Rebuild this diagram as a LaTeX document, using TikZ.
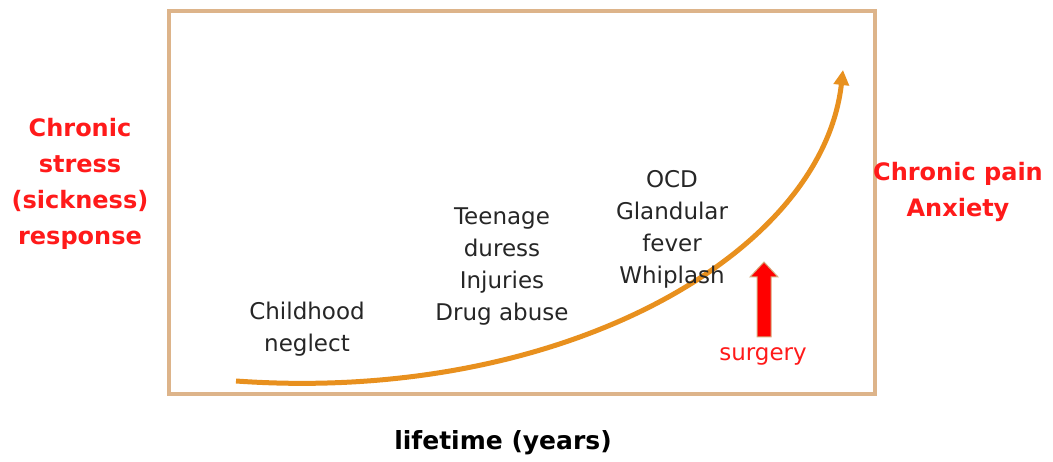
\documentclass[tikz,border=0pt]{standalone}
\usepackage{fontspec}
\setmainfont{DejaVu Sans}
\usetikzlibrary{arrows.meta}
\definecolor{boxtan}{HTML}{DDB48A}
\definecolor{curveorange}{HTML}{E8901E}
\definecolor{arrowred}{HTML}{FF0000}
\definecolor{redtext}{HTML}{FF1A1A}
\tikzset{
  lbl/.style={align=center, font=\fontsize{23}{32}\selectfont, text=black!85, inner sep=0pt},
  redlbl/.style={align=center, font=\bfseries\fontsize{24}{36}\selectfont, text=redtext, inner sep=0pt},
}
\begin{document}
\begin{tikzpicture}[x=1pt,y=-1pt]
\useasboundingbox (0,0) rectangle (1053,462);
\draw[boxtan, line width=3.5pt] (169,11) rectangle (875,394);
\coordinate (cstart) at (236,381);
\coordinate (cend) at (843,70);
\draw[curveorange, line width=5pt, -{Triangle[width=15pt,length=15pt]}]
  (cstart) .. controls (560,404) and (822,255) .. (cend);
\node[redlbl] (left) at (80,184) {Chronic\\stress\\(sickness)\\response};
\node[redlbl] (right) at (958,192) {Chronic pain\\Anxiety};
\node[font=\bfseries\fontsize{25}{28}\selectfont, inner sep=0pt] (xlabel) at (503,443) {lifetime (years)};
\node[lbl] (child) at (307,329) {Childhood\\neglect};
\node[lbl] (teen) at (502,267) {Teenage\\duress\\Injuries\\Drug abuse};
\node[lbl] (ocd) at (672,229) {OCD\\Glandular\\fever\\Whiplash};
\node[font=\fontsize{23}{26}\selectfont, text=redtext, inner sep=0pt] (surg) at (763,356) {surgery};
\fill[arrowred, draw=boxtan!80!brown, line width=1pt]
  (757,337) -- (757,277) -- (750,277) -- (764,262) -- (778,277) -- (771,277) -- (771,337) -- cycle;
\end{tikzpicture}
\end{document}
